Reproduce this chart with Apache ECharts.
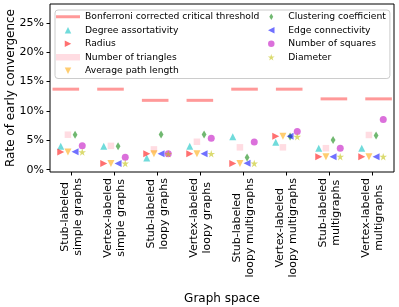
<!DOCTYPE html>
<html>
<head>
<meta charset="utf-8">
<script src="https://cdn.jsdelivr.net/npm/echarts@6/dist/echarts.min.js"></script>
<style>
html,body{margin:0;padding:0;background:#fff;}
#chart{width:399px;height:307px;}
</style>
</head>
<body>
<div id="chart"></div>
<script>
// ---- data ----
const categories = [
  'Stub-labeled\nsimple graphs',
  'Vertex-labeled\nsimple graphs',
  'Stub-labeled\nloopy graphs',
  'Vertex-labeled\nloopy graphs',
  'Stub-labeled\nloopy multigraphs',
  'Vertex-labeled\nloopy multigraphs',
  'Stub-labeled\nmultigraphs',
  'Vertex-labeled\nmultigraphs'
];
const yTicks = [0, 5, 10, 15, 20, 25];
const thresholds         = [13.7, 13.7, 11.8, 11.8, 13.7, 13.7, 12.05, 12.05];
const degreeAssortativity= [4.0, 4.0, 2.0, 4.0, 5.6, 4.65, 3.65, 3.65];
const radius             = [3.0, 1.05, 2.7, 2.7, 1.05, 5.7, 2.2, 2.2];
const numTriangles       = [5.95, 4.05, 3.45, 4.75, 3.8, 3.8, 3.65, 5.9];
const avgPathLength      = [3.0, 1.05, 2.7, 2.7, 1.05, 5.7, 2.2, 2.2];
const clustering         = [5.95, 4.0, 6.0, 6.0, 2.05, 5.65, 5.05, 5.8];
const edgeConnectivity   = [3.05, 1.05, 2.7, 2.7, 1.1, 5.7, 2.2, 2.2];
const numSquares         = [4.05, 2.1, 2.7, 5.35, 4.7, 6.5, 3.65, 8.55];
const diameter           = [3.0, 1.05, 2.7, 2.7, 1.05, 5.6, 2.2, 2.2];

// ---- styling ----
const FONT = 'DejaVu Sans';
const STAR = 'path://M50,0L61.2,34.5L97.6,34.5L68.2,55.9L79.4,90.5L50,69.1L20.6,90.5L31.8,55.9L2.4,34.5L38.8,34.5Z';
const series = [
  {name: 'Degree assortativity', data: degreeAssortativity, pair: 0, color: 'rgba(0,191,191,0.7)', symbol: 'path://M5,0L10,10L0,10Z', size: 7},
  {name: 'Radius', data: radius, pair: 0, color: 'rgba(255,0,0,0.7)', symbol: 'path://M0,0L10,5L0,10Z', size: 7},
  {name: 'Number of triangles', data: numTriangles, pair: 1, color: 'rgba(255,192,203,0.7)', symbol: 'rect', size: 6.5},
  {name: 'Average path length', data: avgPathLength, pair: 1, color: 'rgba(255,165,0,0.7)', symbol: 'path://M0,0L10,0L5,10Z', size: 7},
  {name: 'Clustering coefficient', data: clustering, pair: 2, color: 'rgba(0,128,0,0.7)', symbol: 'path://M3,0L6,5L3,10L0,5Z', size: [4.8, 8]},
  {name: 'Edge connectivity', data: edgeConnectivity, pair: 2, color: 'rgba(0,0,255,0.7)', symbol: 'path://M10,0L0,5L10,10Z', size: 7},
  {name: 'Number of squares', data: numSquares, pair: 3, color: 'rgba(191,0,191,0.7)', symbol: 'circle', size: 7},
  {name: 'Diameter', data: diameter, pair: 3, color: 'rgba(191,191,0,0.7)', symbol: STAR, size: 7.5}
];
const pairOffset = p => (p - 1.5) / 6;
const thresholdName = 'Bonferroni corrected critical threshold';

const chart = echarts.init(document.getElementById('chart'), null, {renderer: 'canvas'});
const option = {
  animation: false,
  backgroundColor: '#fff',
  grid: {
    left: 50, right: 5, top: 4, bottom: 135, outerBoundsMode: 'none', containLabel: false,
    show: true, borderColor: '#000', borderWidth: 1, backgroundColor: 'transparent'
  },
  legend: {
    orient: 'vertical', left: 55, top: 10, height: 70,
    padding: [0, 4, 1, 1],
    itemWidth: 24, itemHeight: 6.5, itemGap: 0,
    selectedMode: false,
    backgroundColor: 'rgba(255,255,255,0.85)', borderColor: '#cccccc', borderWidth: 1, borderRadius: 3,
    textStyle: {fontFamily: FONT, fontSize: 9.2, lineHeight: 13.5, color: '#000'},
    data: [{name: thresholdName, icon: 'path://M0,0H24V3H0Z'}].concat(series.map(s => ({name: s.name})))
  },
  xAxis: [
    {
      type: 'category', data: categories, boundaryGap: true,
      axisLine: {show: false, onZero: false},
      axisTick: {show: true, alignWithLabel: true, length: 3.5, lineStyle: {color: '#000', width: 1}},
      axisLabel: {
        interval: 0, rotate: 90, margin: 6, fontFamily: FONT, fontSize: 11, color: '#000', lineHeight: 13.2,
        formatter: v => v.split('\n').map(l => '{c|' + l + '}').join('\n'),
        rich: {c: {align: 'center', fontFamily: FONT, fontSize: 11, lineHeight: 13.2, color: '#000'}}
      },
      name: 'Graph space', nameLocation: 'middle', nameGap: 121, nameMoveOverlap: false,
      nameTextStyle: {fontFamily: FONT, fontSize: 12, color: '#000'}
    },
    {type: 'value', min: -0.5, max: 7.5, show: false, axisLine: {onZero: false}}
  ],
  yAxis: {
    type: 'value', min: -0.4, max: 28.2, splitNumber: 5,
    axisLine: {show: false, onZero: false},
    splitLine: {show: false},
    axisTick: {show: true, length: 3.5, lineStyle: {color: '#000'}},
    axisLabel: {
      showMinLabel: false, showMaxLabel: false,
      formatter: v => (yTicks.indexOf(v) >= 0 ? v + '%' : ''),
      margin: 6, fontFamily: FONT, fontSize: 11, color: '#000'
    },
    name: 'Rate of early convergence', nameLocation: 'middle', nameGap: 33, nameMoveOverlap: false,
    nameTextStyle: {fontFamily: FONT, fontSize: 12, color: '#000'}
  },
  series: [
    {
      name: thresholdName, type: 'scatter', xAxisIndex: 1,
      symbol: 'rect', symbolSize: [26.6, 3],
      itemStyle: {color: 'rgba(255,0,0,0.5)'},
      data: thresholds.map((v, i) => [i * 1.039 - 0.132, v])
    }
  ].concat(series.map(s => ({
    name: s.name, type: 'scatter', xAxisIndex: 1,
    symbol: s.symbol, symbolSize: s.size,
    itemStyle: {color: s.color},
    data: s.data.map((v, i) => [i + pairOffset(s.pair), v])
  })))
};
chart.setOption(option);
</script>
</body>
</html>
